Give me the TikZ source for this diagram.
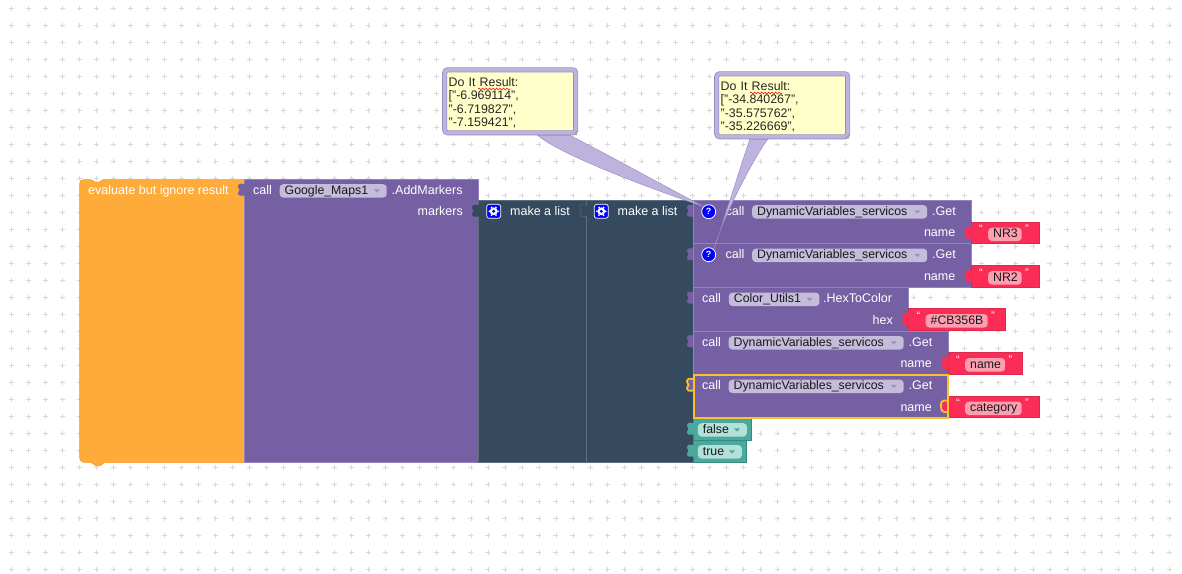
\documentclass[tikz,border=0pt]{standalone}
\usepackage{fontspec}
\setmainfont{Liberation Sans}
\usetikzlibrary{calc,decorations.pathmorphing}
\definecolor{gridplus}{HTML}{D9D9D9}
\definecolor{evalorange}{HTML}{FFAB39}
\definecolor{evaledge}{HTML}{F29A2C}
\definecolor{procpurple}{HTML}{7560A3}
\definecolor{procedge}{HTML}{9385BA}
\definecolor{listblue}{HTML}{354A5F}
\definecolor{listedge}{HTML}{5D6E7F}
\definecolor{textred}{HTML}{FB2C56}
\definecolor{textedge}{HTML}{D92A50}
\definecolor{textfield}{HTML}{FD9FB0}
\definecolor{logicteal}{HTML}{49A99D}
\definecolor{logicedge}{HTML}{37897F}
\definecolor{logicfield}{HTML}{B3E1DA}
\definecolor{purplefield}{HTML}{C5BBDB}
\definecolor{selectgold}{HTML}{FBC02D}
\definecolor{bubblefill}{HTML}{BDB3DD}
\definecolor{bubbleedge}{HTML}{9486C0}
\definecolor{bubbleyellow}{HTML}{FFFFC9}
\tikzset{
  blocklabel/.style={text=white,inner sep=0pt,font=\fontsize{12.5}{14}\selectfont},
  fieldbox/.style={rounded corners=3.5pt,inner xsep=5pt,inner ysep=0pt,text height=9.8pt,text depth=3.5pt,
    align=left,text=black!90,font=\fontsize{12.3}{14}\selectfont},
  quotemark/.style={text=white,inner sep=0pt,font=\fontsize{11}{12}\selectfont},
  resultbubble/.style={anchor=north west,rounded corners=3pt,draw=bubbleedge,line width=.7pt,double=bubblefill,
    double distance=3.6pt,fill=bubbleyellow,minimum width=131pt,minimum height=63pt,text width=123pt,
    inner sep=0pt,outer sep=0pt,align=left,font=\fontsize{12.4}{13.3}\selectfont,text=black!85,
    execute at begin node=\rule{0pt}{12pt}},
  bubbletail/.style={fill=bubblefill,draw=bubbleedge,line width=.4pt},
  helpicon/.style={circle,fill=blue,draw=white,line width=.8pt,minimum size=14pt,inner sep=0pt,text=white,
    font=\fontsize{9}{9}\selectfont\bfseries},
  gearicon/.style={rounded corners=2.5pt,fill=blue,draw=white,line width=.7pt,minimum size=14pt,inner sep=0pt},
  spellwave/.style={red,line width=.5pt,decorate,decoration={snake,amplitude=1pt,segment length=3.5pt}}
}
% puzzle tab on the left of a value block: x, y, look
\newcommand{\puzzletab}[3]{
  \path[#3,shift={(#1,#2)}] (.6,-6) .. controls (-2,-6.6) and (-6.6,-7) .. (-6.6,-3.5)
    .. controls (-6.6,-1.5) and (-5,-1.5) .. (-5,0) .. controls (-5,1.5) and (-6.6,1.5) .. (-6.6,3)
    .. controls (-6.6,6.5) and (-2,6) .. (.6,5.5);
}
% dropdown arrow inside a field: field name, colour
\newcommand{\droparrow}[2]{
  \fill[#2] ($(#1.east)+(-13pt,1.5pt)$) -- ++(6,0) -- ++(-3,3.2) -- cycle;
}
% text block: name, left, right, top, field x, field width, text
\newcommand{\stringblock}[7]{
  \filldraw[fill=textred,draw=textedge,line width=.5pt] (#2,#4) rectangle (#3,{#4+21.5});
  \puzzletab{#2}{{#4+11}}{fill=textred}
  \node[fieldbox,fill=textfield,anchor=base west,text width={#6-10pt},align=center] (#1) at (#5,{#4+15.5}) {#7};
  \node[quotemark,anchor=base] (#1open) at ({#5-7},{#4+10.5}) {“};
  \node[quotemark,anchor=base] (#1close) at ({#5+#6+5.5},{#4+10.5}) {”};
}
% DynamicVariables call: name, x offset, top, right edge, block look
\newcommand{\dynblock}[5]{
  \filldraw[#5] (693.5,#3) rectangle (#4,{#3+43.5});
  \node[blocklabel,anchor=base west] (#1call) at ({702+#2},{#3+15}) {call};
  \node[fieldbox,fill=purplefield,anchor=base west,text width=165pt] (#1field) at ({728.5+#2},{#3+15}) {DynamicVariables\_servicos};
  \droparrow{#1field}{procpurple!70!white}
  \node[blocklabel,anchor=base west] (#1get) at ({908.5+#2},{#3+15}) {.Get};
  \node[blocklabel,anchor=base east] (#1name) at ({932+#2},{#3+36.5}) {name};
}
\begin{document}
\begin{tikzpicture}[x=1pt,y=-1pt]
  \useasboundingbox (0,0) rectangle (1182,573);
  \fill[white] (0,0) rectangle (1182,573);
  % background dots
  \foreach \i in {0,...,68}
    \foreach \j in {0,...,33}
      \draw[gridplus,line width=.6pt] ({11+17.03*\i-2.5},{8.3+17*\j}) -- ++(5,0) ({11+17.03*\i},{8.3+17*\j-2.5}) -- ++(0,5);

  % evaluate block
  \filldraw[fill=evalorange,draw=evaledge,line width=.5pt] (84,179.5) -- (91,179.5) -- (95,182) -- (99,182) -- (103,179.5) -- (244.5,179.5)
    -- (244.5,462.5) -- (105,462.5) -- (100,465.8) -- (96,465.8) -- (91,462.5) -- (85.5,462.5)
    .. controls (81.5,462.5) and (79.5,460.5) .. (79.5,456.5) -- (79.5,184) .. controls (79.5,181) and (81,179.5) .. (84,179.5);
  \node[blocklabel,anchor=base west] (evalLabel) at (88,194) {evaluate but ignore result};

  % AddMarkers block
  \filldraw[fill=procpurple,draw=procedge,line width=.6pt] (244.5,179.5) rectangle (478.5,462.5);
  \puzzletab{244.5}{190}{fill=procpurple}
  \node[blocklabel,anchor=base west] (mapsCall) at (253,194) {call};
  \node[fieldbox,fill=purplefield,anchor=base west,text width=97pt] (mapsField) at (279.5,194) {Google\_Maps1};
  \droparrow{mapsField}{procpurple!70!white}
  \node[blocklabel,anchor=base west] (mapsAdd) at (391.5,194) {.AddMarkers};
  \node[blocklabel,anchor=base east] (mapsMarkers) at (463,215) {markers};

  % make a list blocks
  \filldraw[fill=listblue,draw=listedge,line width=.6pt] (478.5,200) rectangle (586.5,462.5);
  \filldraw[fill=listblue,draw=listedge,line width=.6pt] (586.5,200) rectangle (693.5,462.5);
  \puzzletab{478.5}{211}{fill=listblue}
  \puzzletab{586.5}{211}{fill=listblue,draw=listedge,line width=.4pt}
  \node[gearicon] (gearOne) at (493.7,211.3) {};
  \node[gearicon] (gearTwo) at (601.3,211.3) {};
  \foreach \g in {gearOne,gearTwo} {
    \foreach \a in {0,60,...,300}
      \fill[white] (\g.center) ++(\a:4.4) circle (1pt);
    \fill[white] (\g.center) circle (3.9pt);
    \fill[blue] (\g.center) circle (1.7pt);
  }
  \node[blocklabel,anchor=base west] (listOne) at (510,215) {make a list};
  \node[blocklabel,anchor=base west] (listTwo) at (617.5,215) {make a list};

  % list items
  \puzzletab{693.5}{211}{fill=procpurple}
  \puzzletab{693.5}{254.5}{fill=procpurple}
  \puzzletab{693.5}{298}{fill=procpurple}
  \puzzletab{693.5}{341.5}{fill=procpurple}
  \dynblock{nrThree}{23.5}{200}{971}{fill=procpurple,draw=procedge,line width=.6pt}
  \dynblock{nrTwo}{23.5}{243.5}{971}{fill=procpurple,draw=procedge,line width=.6pt}
  \stringblock{nrThreeText}{971}{1039.5}{222}{988}{33.5}{NR3}
  \stringblock{nrTwoText}{971}{1039.5}{265.5}{988}{33.5}{NR2}
  \node[helpicon] (helpOne) at (708.7,211.7) {?};
  \node[helpicon] (helpTwo) at (708.7,254.7) {?};

  \filldraw[fill=procpurple,draw=procedge,line width=.6pt] (693.5,287.5) rectangle (908.5,331);
  \node[blocklabel,anchor=base west] (colorCall) at (702,302.5) {call};
  \node[fieldbox,fill=purplefield,anchor=base west,text width=80.5pt] (colorField) at (728.7,302.5) {Color\_Utils1};
  \droparrow{colorField}{procpurple!70!white}
  \node[blocklabel,anchor=base west] (colorHex) at (823,302.5) {.HexToColor};
  \node[blocklabel,anchor=base east] (colorName) at (893,324) {hex};
  \stringblock{colorText}{908.5}{1005.5}{308.5}{925.5}{62}{\#CB356B}

  \dynblock{nameBlock}{0}{331}{948}{fill=procpurple,draw=procedge,line width=.6pt}
  \stringblock{nameText}{948}{1022.5}{352.5}{965}{40}{name}

  \dynblock{catBlock}{0}{374.5}{948}{fill=procpurple,draw=procedge,line width=.6pt}
  \puzzletab{693.5}{385}{fill=procpurple,draw=selectgold,line width=1.8pt}
  \stringblock{catText}{948}{1039.5}{396}{965}{56.5}{category}
  \draw[selectgold,line width=1.8pt] (947.8,401) .. controls (941,399) and (941,403) .. (941,406) .. controls (941,410) and (942,413) .. (947.8,412);

  % logic values
  \filldraw[fill=logicteal,draw=logicedge,line width=.5pt] (693.5,418) rectangle (751.5,440);
  \puzzletab{693.5}{429}{fill=logicteal}
  \node[fieldbox,fill=logicfield,anchor=base west,text width=39pt] (falseField) at (697.7,433) {false};
  \droparrow{falseField}{logicteal}
  \filldraw[fill=logicteal,draw=logicedge,line width=.5pt] (693.5,440) rectangle (746.5,462);
  \puzzletab{693.5}{451}{fill=logicteal}
  \node[fieldbox,fill=logicfield,anchor=base west,text width=34pt] (trueField) at (697.7,455) {true};
  \droparrow{trueField}{logicteal}
  % selected outline goes over its neighbours
  \draw[selectgold,line width=2pt] (693.5,374.5) rectangle (948,418);

  % result bubbles
  \node[resultbubble] (resultOne) at (444.7,69.8) {Do It Result:\\{[}"-6.969114",\\"-6.719827",\\"-7.159421",};
  \node[resultbubble] (resultTwo) at (716.7,73.8) {Do It Result:\\{[}"-34.840267",\\"-35.575762",\\"-35.226669",};
  \filldraw[bubbletail] ([xshift=93pt,yshift=-2.5pt]resultOne.south west)
    .. controls +(17,15) and +(-83,-28) .. (helpOne.north west)
    .. controls +(-53,-28) and +(30,15) .. ([xshift=125pt,yshift=-2.5pt]resultOne.south west) -- cycle;
  \filldraw[bubbletail] ([xshift=33pt,yshift=-2.5pt]resultTwo.south west)
    .. controls +(-10,30) and +(10,-30) .. (helpTwo.north east)
    .. controls +(8,-30) and +(-16,22) .. ([xshift=51pt,yshift=-2.5pt]resultTwo.south west) -- cycle;
  \fill[gray!70] (577,130.5) -- (577,135) -- (572.5,135) -- cycle;
  \fill[gray!70] (849,134) -- (849,138.5) -- (844.5,138.5) -- cycle;
  \draw[spellwave] (478,89) -- (510,89);
  \draw[spellwave] (750,93) -- (782,93);
\end{tikzpicture}
\end{document}
